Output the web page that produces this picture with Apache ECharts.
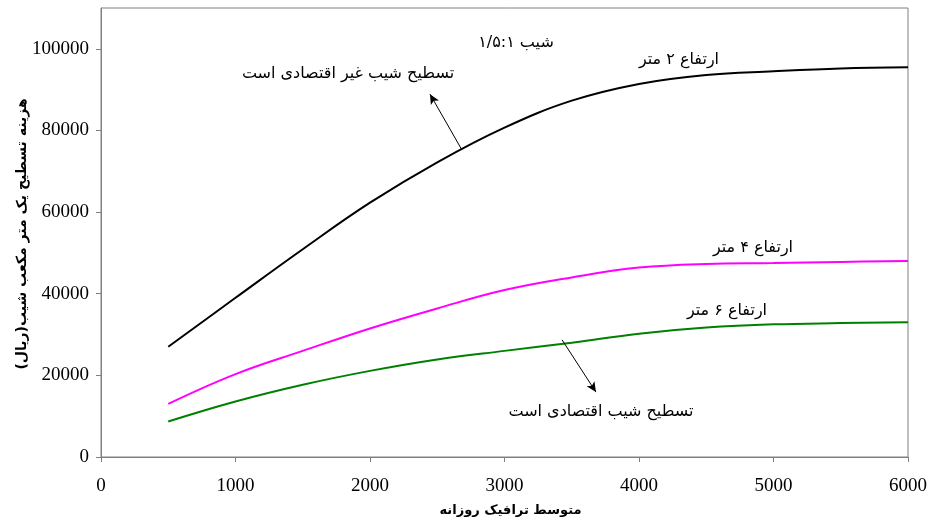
<!DOCTYPE html>
<html>
<head>
<meta charset="utf-8">
<script src="https://cdn.jsdelivr.net/npm/echarts@6/dist/echarts.min.js"></script>
<style>html,body{margin:0;padding:0;background:#fff}#c{width:930px;height:524px}</style>
</head>
<body>
<div id="c"></div>
<script>
var traffic = [500, 1000, 1500, 2000, 2500, 3000, 3500, 4000, 4500, 5000, 5500, 6000];
var height2m = [27000, 39000, 50900, 62300, 72200, 80700, 87300, 91400, 93600, 94500, 95200, 95500];
var height4m = [13000, 20300, 26000, 31500, 36400, 40900, 44000, 46400, 47300, 47500, 47800, 48000];
var height6m = [8700, 13600, 17700, 21100, 23900, 26000, 28000, 30200, 31700, 32500, 32800, 33000];
var xTicks = [0, 1000, 2000, 3000, 4000, 5000, 6000];
var yTicks = [0, 20000, 40000, 60000, 80000, 100000];
var seriesNames = ['ارتفاع ۲ متر', 'ارتفاع ۴ متر', 'ارتفاع ۶ متر'];
var xTitle = 'متوسط ترافیک روزانه';
var yTitle = 'هزینه تسطیح یک متر مکعب شیب(ریال)';
var noteSlope = 'شیب ۱/۵:۱';
var noteUneconomic = 'تسطیح شیب غیر اقتصادی است';
var noteEconomic = 'تسطیح شیب اقتصادی است';
var arrowUp = [[2684, 75200], [2446, 88900]];
var arrowDown = [[3428, 28700], [3680, 15900]];

function pairs(ys) { return traffic.map(function (x, i) { return [x, ys[i]]; }); }

var serif = '"Liberation Serif", "DejaVu Serif", serif';
var fa = '"DejaVu Sans", "Noto Sans", sans-serif';

var chart = echarts.init(document.getElementById('c'), null, {renderer: 'canvas'});
function arrowLine(coords) {
  return {
    silent: true,
    symbol: ['none', 'arrow'],
    symbolSize: [7, 10],
    label: {show: false},
    lineStyle: {color: '#000', width: 1, type: 'solid'},
    data: [[{coord: coords[0]}, {coord: coords[1]}]]
  };
}
function note(x, y, text) {
  return {type: 'text', x: x, y: y, style: {text: text, font: '16px ' + fa, fill: '#000', align: 'center', verticalAlign: 'middle'}};
}
function plain(v) { return String(v); }
chart.setOption({
  animation: false,
  backgroundColor: '#fff',
  grid: {left: 101, right: 22, top: 8, bottom: 67, show: true, borderColor: '#808080', borderWidth: 1,
    containLabel: false, outerBoundsMode: 'none'},
  xAxis: {
    type: 'value', min: 0, max: 6000, interval: 1000,
    axisLine: {show: true, lineStyle: {color: '#808080', width: 1}},
    axisTick: {show: true, inside: false, length: 5, lineStyle: {color: '#808080'}, customValues: xTicks},
    splitLine: {show: false},
    axisLabel: {color: '#000', fontFamily: serif, fontSize: 19, margin: 20, customValues: xTicks, formatter: plain},
    name: xTitle, nameLocation: 'middle', nameGap: 47,
    nameTextStyle: {color: '#000', fontFamily: fa, fontSize: 13, fontWeight: 'bold', padding: [0, 0, 0, 12]}
  },
  yAxis: {
    type: 'value', min: 0, max: 110000, interval: 20000,
    axisLine: {show: true, lineStyle: {color: '#808080', width: 1}},
    axisTick: {show: true, inside: false, length: 5, lineStyle: {color: '#808080'}, customValues: yTicks},
    splitLine: {show: false},
    axisLabel: {color: '#000', fontFamily: serif, fontSize: 19, margin: 12, customValues: yTicks, formatter: plain}
  },
  series: [
    {name: seriesNames[0], type: 'line', data: pairs(height2m), smooth: 0.4, showSymbol: false,
      lineStyle: {color: '#000000', width: 2}, itemStyle: {color: '#000000'},
      markLine: arrowLine(arrowUp)},
    {name: seriesNames[1], type: 'line', data: pairs(height4m), smooth: 0.4, showSymbol: false,
      lineStyle: {color: '#FF00FF', width: 2}, itemStyle: {color: '#FF00FF'}},
    {name: seriesNames[2], type: 'line', data: pairs(height6m), smooth: 0.4, showSymbol: false,
      lineStyle: {color: '#008000', width: 2}, itemStyle: {color: '#008000'},
      markLine: arrowLine(arrowDown)}
  ],
  graphic: [
    {type: 'text', x: 22, y: 234, rotation: Math.PI / 2,
      style: {text: yTitle, font: 'bold 14px ' + fa, fill: '#000', align: 'center', verticalAlign: 'middle'}},
    note(516, 43, noteSlope),
    note(679, 60, seriesNames[0]),
    note(348, 74, noteUneconomic),
    note(753, 248, seriesNames[1]),
    note(727, 311, seriesNames[2]),
    note(601, 412, noteEconomic)
  ]
});
</script>
</body>
</html>
